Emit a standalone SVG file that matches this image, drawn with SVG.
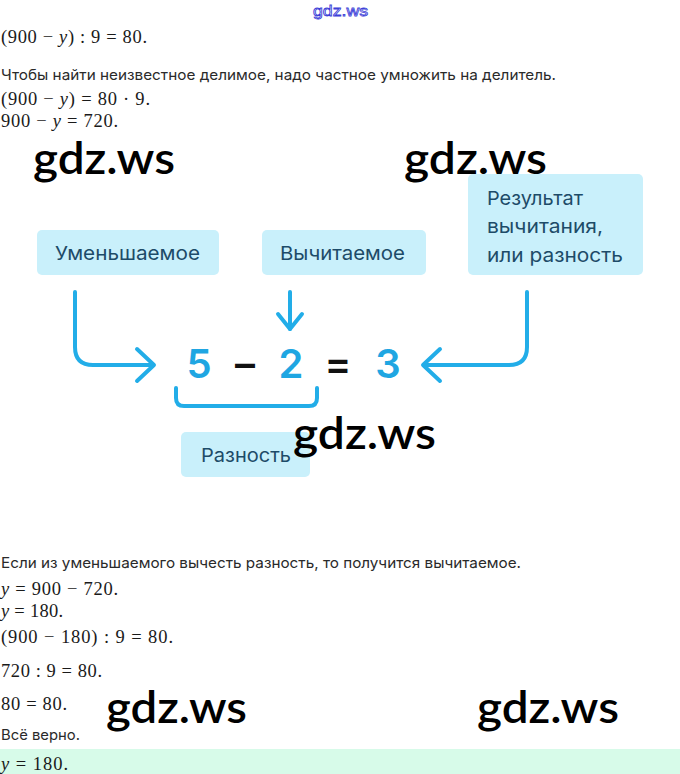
<svg xmlns="http://www.w3.org/2000/svg" width="680" height="774" viewBox="0 0 680 774">
<style>
.m{font-family:"Liberation Serif","Times New Roman",serif;font-size:18.5px;fill:#1a1a1a}
.i{font-style:italic}
.p{font-family:Inter,"Liberation Sans",sans-serif;font-size:14.5px;fill:#2a2a2a}
.wm{font-family:Lato,"Open Sans",sans-serif;font-size:45px;font-weight:600;fill:#000}
.box{fill:#c9f0fb}
.lbl{font-family:Inter,"Liberation Sans",sans-serif;font-size:19px;fill:#1d4b68}
.num{font-family:Inter,"Liberation Sans",sans-serif;font-size:40px;font-weight:600;fill:#1fa6e2}
.op{font-family:Inter,"Liberation Sans",sans-serif;font-size:40px;font-weight:600;fill:#111}
.c{fill:none;stroke:#22ade8;stroke-width:4;stroke-linecap:round;stroke-linejoin:round}
</style>
<rect width="680" height="774" fill="#ffffff"/>
<rect x="0" y="749" width="680" height="25" fill="#d7fbe9"/>

<text x="313" y="16" font-family="Liberation Sans,Arial,sans-serif" font-size="15" fill="#ffffff" stroke="#3d3fd8" stroke-width="0.8" textLength="55" lengthAdjust="spacingAndGlyphs">gdz.ws</text>

<text class="m" x="1" y="43" textLength="146" lengthAdjust="spacing">(900 − <tspan class="i">y</tspan>) : 9 = 80.</text>
<text class="p" x="1" y="80" textLength="555" lengthAdjust="spacingAndGlyphs">Чтобы найти неизвестное делимое, надо частное умножить на делитель.</text>
<text class="m" x="1" y="105" textLength="149" lengthAdjust="spacing">(900 − <tspan class="i">y</tspan>) = 80 · 9.</text>
<text class="m" x="1" y="127" textLength="117" lengthAdjust="spacing">900 − <tspan class="i">y</tspan> = 720.</text>

<g id="connectors">
<path class="c" d="M75,292 V347 Q75,365 93,365 H153"/>
<path class="c" d="M137,349 L154,365 L137,381"/>
<path class="c" d="M290,292 V329"/>
<path class="c" d="M278,314 L290,329 L302,314"/>
<path class="c" d="M527,292 V347 Q527,365 509,365 H424"/>
<path class="c" d="M440,349 L423,365 L440,381"/>
<path class="c" d="M176,388 V398 Q176,406 184,406 H309 Q317,406 317,398 V388"/>
</g>

<g id="minuend">
<rect class="box" x="37" y="230" width="182" height="45" rx="5"/>
<text class="lbl" x="55" y="260" textLength="145" lengthAdjust="spacingAndGlyphs">Уменьшаемое</text>
</g>
<g id="subtrahend">
<rect class="box" x="262" y="230" width="164" height="45" rx="5"/>
<text class="lbl" x="280" y="260" textLength="125" lengthAdjust="spacingAndGlyphs">Вычитаемое</text>
</g>
<g id="result">
<rect class="box" x="468" y="174" width="175" height="101" rx="5"/>
<text class="lbl" x="487" y="205" textLength="96" lengthAdjust="spacingAndGlyphs">Результат</text>
<text class="lbl" x="487" y="233" textLength="116" lengthAdjust="spacingAndGlyphs">вычитания,</text>
<text class="lbl" x="487" y="262" textLength="136" lengthAdjust="spacingAndGlyphs">или разность</text>
</g>
<g id="difference">
<rect class="box" x="181" y="432" width="129" height="45" rx="5"/>
<text class="lbl" x="201" y="462" textLength="90" lengthAdjust="spacingAndGlyphs">Разность</text>
</g>
<g id="equation">
<text class="num" x="199" y="378" text-anchor="middle">5</text>
<text class="op" x="245" y="378" text-anchor="middle">–</text>
<text class="num" x="291" y="378" text-anchor="middle">2</text>
<text class="op" x="338" y="378" text-anchor="middle">=</text>
<text class="num" x="388" y="378" text-anchor="middle">3</text>
</g>

<text class="p" x="1" y="568" textLength="520" lengthAdjust="spacingAndGlyphs">Если из уменьшаемого вычесть разность, то получится вычитаемое.</text>
<text class="m" x="1" y="595" textLength="117" lengthAdjust="spacing"><tspan class="i">y</tspan> = 900 − 720.</text>
<text class="m" x="1" y="617" textLength="62" lengthAdjust="spacing"><tspan class="i">y</tspan> = 180.</text>
<text class="m" x="1" y="643" textLength="172" lengthAdjust="spacing">(900 − 180) : 9 = 80.</text>
<text class="m" x="1" y="677" textLength="101" lengthAdjust="spacing">720 : 9 = 80.</text>
<text class="m" x="1" y="710" textLength="66" lengthAdjust="spacing">80 = 80.</text>
<text class="p" x="1" y="740" textLength="79" lengthAdjust="spacingAndGlyphs">Всё верно.</text>
<text class="m" x="1" y="770" textLength="67" lengthAdjust="spacing"><tspan class="i">y</tspan> = 180.</text>

<text class="wm" x="33" y="174" textLength="142" lengthAdjust="spacingAndGlyphs">gdz.ws</text>
<text class="wm" x="404" y="174" textLength="143" lengthAdjust="spacingAndGlyphs">gdz.ws</text>
<text class="wm" x="293" y="449" textLength="143" lengthAdjust="spacingAndGlyphs">gdz.ws</text>
<text class="wm" x="106" y="723" textLength="141" lengthAdjust="spacingAndGlyphs">gdz.ws</text>
<text class="wm" x="477" y="723" textLength="142" lengthAdjust="spacingAndGlyphs">gdz.ws</text>
</svg>
